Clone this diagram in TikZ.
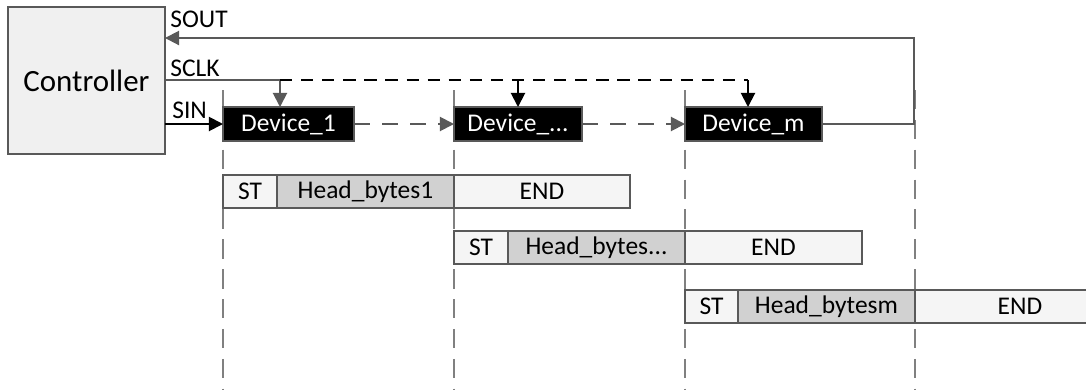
\documentclass[tikz,border=0pt]{standalone}
\usepackage{fontspec}
\setmainfont{Carlito}
\usetikzlibrary{
    arrows.meta,
    positioning
}
\definecolor{edgegray}{HTML}{595959}
\definecolor{guidegray}{HTML}{808080}
\tikzstyle{ctrlbox} = [
    rectangle, draw=edgegray,
    line width=1.1pt,
    fill=black!6,
    minimum width=3.14cm,
    minimum height=2.94cm,
    outer sep=0pt,
    font=\fontsize{17.6}{20}\selectfont
]
\tikzstyle{devbox} = [
    rectangle, draw=edgegray,
    line width=1.1pt,
    fill=black,
    text=white,
    minimum height=0.68cm,
    inner sep=0pt,
    outer sep=0pt
]
\tikzstyle{field} = [
    rectangle, draw=edgegray,
    line width=1.1pt,
    minimum height=0.66cm,
    inner sep=0pt,
    outer sep=0pt
]
\tikzstyle{lightf} = [field, fill=black!4]
\tikzstyle{headf} = [field, fill=black!18]
\tikzstyle{guide} = [
    guidegray,
    line width=0.6pt,
    dash pattern=on 11pt off 6pt
]
\tikzstyle{sig} = [
    edgegray,
    line width=1.1pt,
    -{Triangle[length=8pt,width=8pt]}
]

\begin{document}
\begin{tikzpicture}[
        x=0.02cm, y=-0.02cm,
        font=\fontsize{14.5}{17}\selectfont
    ]
    \useasboundingbox (0,0) rectangle (1086,390);

    % time lines
    \foreach \x in {223,454,685,915}
        \draw[guide] (\x,90) -- (\x,390);

    \node[ctrlbox, anchor=north west] (ctrl) at (8,7) {Controller};

    \node[devbox, minimum width=2.62cm, anchor=north west] (d1) at (223,107) {Device\_1};
    \node[devbox, minimum width=2.56cm, anchor=north west] (dn) at (454,107) {Device\_...};
    \node[devbox, minimum width=2.74cm, anchor=north west] (dm) at (685,107) {Device\_m};

    % frames
    \node[lightf, minimum width=1.08cm, anchor=north west] (st1) at (223,175) {ST};
    \node[headf, minimum width=3.54cm, right=0pt of st1] (hb1) {Head\_bytes1};
    \node[lightf, minimum width=3.52cm, right=0pt of hb1] (end1) {END};

    \node[lightf, minimum width=1.08cm, anchor=north west] (st2) at (454,231) {ST};
    \node[headf, minimum width=3.54cm, right=0pt of st2] (hb2) {Head\_bytes...};
    \node[lightf, minimum width=3.54cm, right=0pt of hb2] (end2) {END};

    \node[lightf, minimum width=1.06cm, anchor=north west] (st3) at (685,290) {ST};
    \node[headf, minimum width=3.54cm, right=0pt of st3] (hb3) {Head\_bytesm};
    \node[lightf, minimum width=4.20cm, right=0pt of hb3, text width=3.4cm, align=center] (end3) {END};

    % signals
    \coordinate (sclk) at (165,80);
    \coordinate (clk1) at (280,80);
    \coordinate (clk2) at (518,80);
    \coordinate (clk3) at (748,80);
    \coordinate (sout) at (914,38);

    \draw[sig, black] (ctrl.east |- d1.west) -- (d1.west);
    \draw[sig] (sclk) -| (clk1 |- d1.north);
    \draw[black, line width=1.1pt, dash pattern=on 7pt off 5pt] (clk1) -- (clk3);
    \draw[sig, black] (clk2) -- (clk2 |- dn.north);
    \draw[sig, black] (clk3) -- (clk3 |- dm.north);
    \draw[sig, dash pattern=on 9pt off 7pt] (d1.east) -- (dn.west);
    \draw[sig, dash pattern=on 9pt off 7pt] (dn.east) -- (dm.west);
    \draw[sig] (dm.east) -| (sout) -- (ctrl.east |- sout);

    \node[anchor=base west, inner sep=0pt] (lsout) at (170,27) {SOUT};
    \node[anchor=base west, inner sep=0pt] (lsclk) at (170,76) {SCLK};
    \node[anchor=base west, inner sep=0pt] (lsin) at (172,118) {SIN};
\end{tikzpicture}
\end{document}
